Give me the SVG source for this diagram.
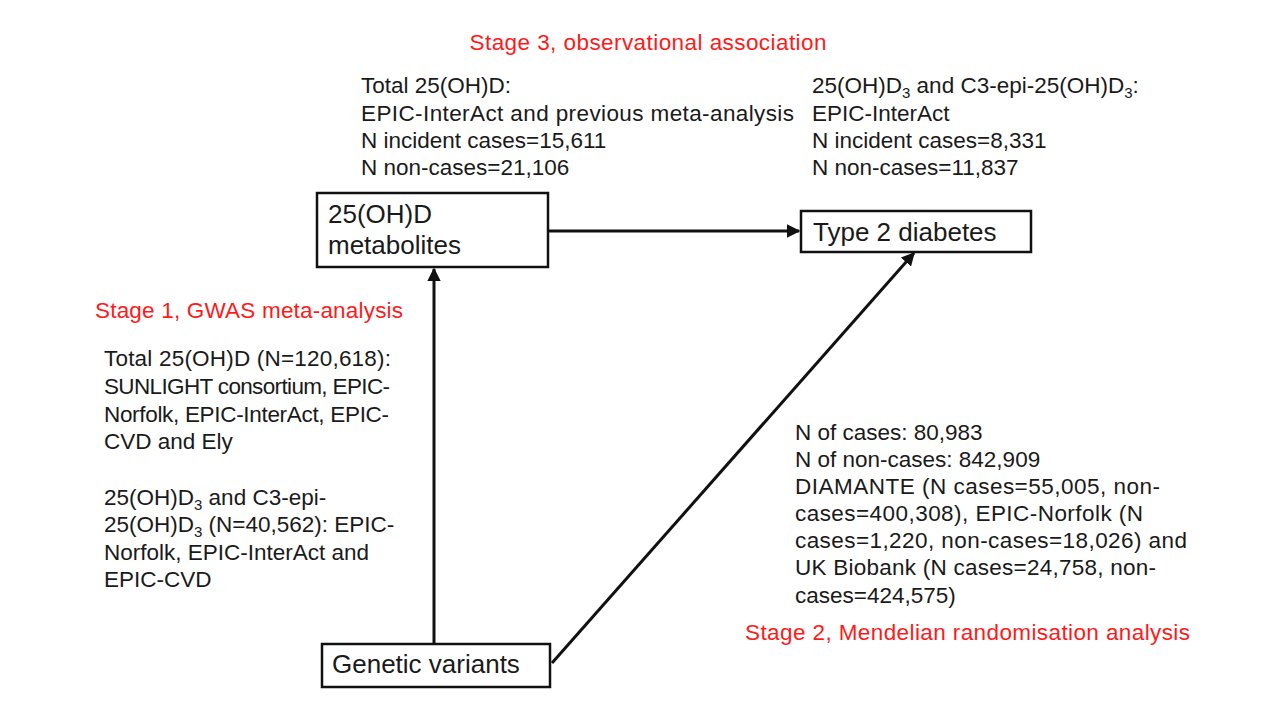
<svg xmlns="http://www.w3.org/2000/svg" width="1280" height="720" viewBox="0 0 1280 720">
<defs>
<style>
text{font-family:"Liberation Sans",Arial,sans-serif;fill:#1a1a1a}
.b{font-size:22.5px}
.n{font-size:26px}
.r{font-size:22.5px;fill:#ff1a1a}
.box{fill:#fff;stroke:#111;stroke-width:2.5}
.ln{stroke:#111;stroke-width:3;fill:none}
</style>
<marker id="ah" viewBox="0 0 10 10" refX="9" refY="5" markerWidth="4.5" markerHeight="4.5" orient="auto" markerUnits="strokeWidth">
<path d="M0,0 L10,5 L0,10 z" fill="#111"/>
</marker>
</defs>
<rect width="1280" height="720" fill="#fff"/>

<g id="connectors">
<line class="ln" x1="548" y1="231" x2="799" y2="231" marker-end="url(#ah)"/>
<line class="ln" x1="434" y1="644" x2="434" y2="269" marker-end="url(#ah)"/>
<line class="ln" x1="552" y1="663" x2="914" y2="253" marker-end="url(#ah)"/>
</g>

<g id="node-metabolites">
<rect class="box" x="317" y="193" width="231" height="74"/>
<text class="n" x="328" y="223">25(OH)D</text>
<text class="n" x="328" y="254">metabolites</text>
</g>

<g id="node-t2d">
<rect class="box" x="801" y="211" width="230" height="41"/>
<text class="n" x="813" y="241">Type 2 diabetes</text>
</g>

<g id="node-genetic">
<rect class="box" x="322" y="644" width="228" height="43"/>
<text class="n" x="332" y="673">Genetic variants</text>
</g>

<g id="stage3">
<text class="r" x="648" y="50" text-anchor="middle" textLength="357" lengthAdjust="spacing">Stage 3, observational association</text>
<text class="b" x="361" y="93">Total 25(OH)D:</text>
<text class="b" x="361" y="121" textLength="433" lengthAdjust="spacing">EPIC-InterAct and previous meta-analysis</text>
<text class="b" x="361" y="148">N incident cases=15,611</text>
<text class="b" x="361" y="175">N non-cases=21,106</text>
<text class="b" x="812" y="93">25(OH)D<tspan font-size="15" dy="5">3</tspan><tspan dy="-5"> and C3-epi-25(OH)D</tspan><tspan font-size="15" dy="5">3</tspan><tspan dy="-5">:</tspan></text>
<text class="b" x="812" y="121">EPIC-InterAct</text>
<text class="b" x="812" y="148">N incident cases=8,331</text>
<text class="b" x="812" y="175">N non-cases=11,837</text>
</g>

<g id="stage1">
<text class="r" x="95" y="318" textLength="308" lengthAdjust="spacing">Stage 1, GWAS meta-analysis</text>
<text class="b" x="104" y="366" textLength="287" lengthAdjust="spacing">Total 25(OH)D (N=120,618):</text>
<text class="b" x="104" y="394" textLength="286" lengthAdjust="spacing">SUNLIGHT consortium, EPIC-</text>
<text class="b" x="104" y="422" textLength="285" lengthAdjust="spacing">Norfolk, EPIC-InterAct, EPIC-</text>
<text class="b" x="104" y="449">CVD and Ely</text>
<text class="b" x="104" y="505">25(OH)D<tspan font-size="15" dy="5">3</tspan><tspan dy="-5"> and C3-epi-</tspan></text>
<text class="b" x="104" y="532">25(OH)D<tspan font-size="15" dy="5">3</tspan><tspan dy="-5"> (N=40,562): EPIC-</tspan></text>
<text class="b" x="104" y="560">Norfolk, EPIC-InterAct and</text>
<text class="b" x="104" y="587">EPIC-CVD</text>
</g>

<g id="stage2">
<text class="b" x="795" y="440">N of cases: 80,983</text>
<text class="b" x="795" y="467">N of non-cases: 842,909</text>
<text class="b" x="795" y="494" textLength="365" lengthAdjust="spacing">DIAMANTE (N cases=55,005, non-</text>
<text class="b" x="795" y="521" textLength="348" lengthAdjust="spacing">cases=400,308), EPIC-Norfolk (N</text>
<text class="b" x="795" y="548" textLength="392" lengthAdjust="spacing">cases=1,220, non-cases=18,026) and</text>
<text class="b" x="795" y="575" textLength="361" lengthAdjust="spacing">UK Biobank (N cases=24,758, non-</text>
<text class="b" x="795" y="603">cases=424,575)</text>
<text class="r" x="745" y="640" textLength="445" lengthAdjust="spacing">Stage 2, Mendelian randomisation analysis</text>
</g>
</svg>
